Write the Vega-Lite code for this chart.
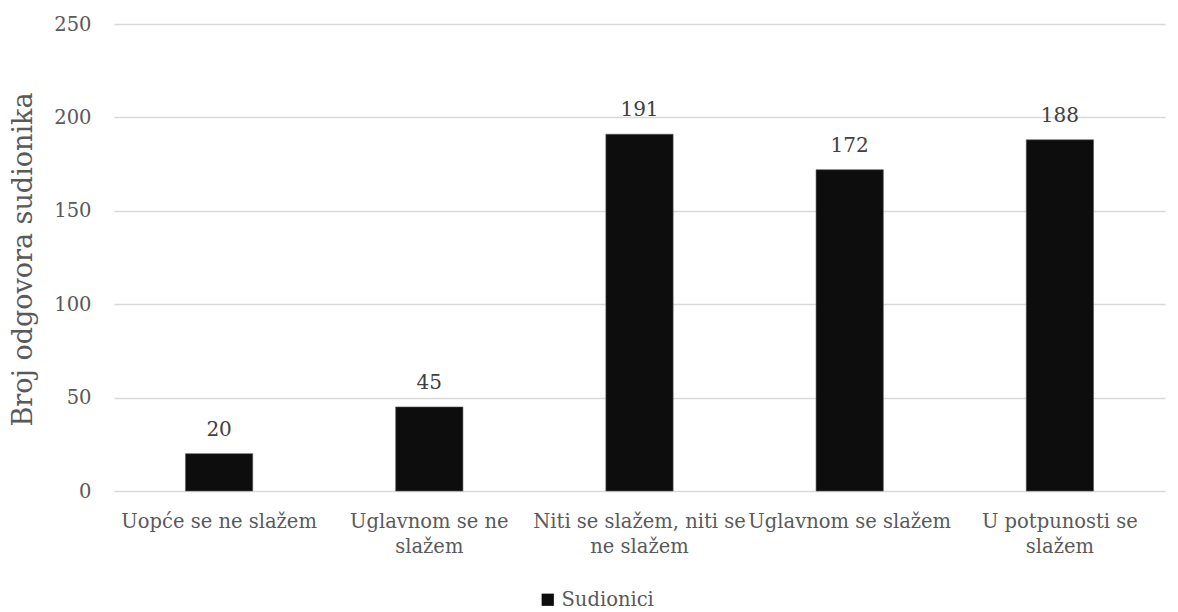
{
  "$schema": "https://vega.github.io/schema/vega-lite/v6.json",
  "autosize": {"type": "none"},
  "width": 1051,
  "height": 467,
  "padding": {"left": 114, "top": 24, "right": 13, "bottom": 121},
  "background": "white",
  "config": {
    "font": "DejaVu Serif",
    "view": {"stroke": null}
  },
  "data": {
    "values": [
      {"kategorija": "Uopće se ne slažem", "broj": 20, "serija": "Sudionici"},
      {"kategorija": "Uglavnom se ne slažem", "broj": 45, "serija": "Sudionici"},
      {"kategorija": "Niti se slažem, niti se ne slažem", "broj": 191, "serija": "Sudionici"},
      {"kategorija": "Uglavnom se slažem", "broj": 172, "serija": "Sudionici"},
      {"kategorija": "U potpunosti se slažem", "broj": 188, "serija": "Sudionici"}
    ]
  },
  "encoding": {
    "x": {
      "field": "kategorija",
      "type": "nominal",
      "sort": null,
      "scale": {"paddingInner": 0.68, "paddingOuter": 0.34},
      "axis": {
        "title": null,
        "labelAngle": 0,
        "domain": false,
        "ticks": false,
        "labelPadding": 21,
        "labelFontSize": 19.5,
        "labelColor": "#595959",
        "labelLineHeight": 25,
        "labelBaseline": "top",
        "labelLimit": 0,
        "labelExpr": "datum.label == 'Uglavnom se ne slažem' ? ['Uglavnom se ne', 'slažem'] : datum.label == 'Niti se slažem, niti se ne slažem' ? ['Niti se slažem, niti se', 'ne slažem'] : datum.label == 'U potpunosti se slažem' ? ['U potpunosti se', 'slažem'] : datum.label"
      }
    },
    "y": {
      "field": "broj",
      "type": "quantitative",
      "scale": {"domain": [0, 250]},
      "axis": {
        "title": "Broj odgovora sudionika",
        "titleFontSize": 27,
        "titleFontWeight": "normal",
        "titleColor": "#595959",
        "titleX": -77,
        "titleY": 235,
        "values": [0, 50, 100, 150, 200, 250],
        "domain": false,
        "ticks": false,
        "labelPadding": 23,
        "labelFontSize": 19.5,
        "labelColor": "#595959",
        "gridColor": "#d9d9d9",
        "gridWidth": 1.3
      }
    }
  },
  "layer": [
    {
      "mark": {"type": "bar", "fill": "#0d0d0d", "stroke": "#595959", "strokeWidth": 0.6},
      "encoding": {
        "color": {
          "field": "serija",
          "type": "nominal",
          "scale": {"range": ["#0d0d0d"]},
          "legend": {
            "title": null,
            "orient": "none",
            "legendX": 424,
            "legendY": 566,
            "symbolType": "square",
            "symbolSize": 150,
            "symbolStrokeWidth": 0,
            "labelFontSize": 19.5,
            "labelColor": "#595959",
            "labelOffset": 4
          }
        }
      }
    },
    {
      "mark": {"type": "text", "baseline": "alphabetic", "dy": -18, "fontSize": 20, "color": "#404040"},
      "encoding": {
        "text": {"field": "broj", "type": "quantitative"}
      }
    }
  ]
}
